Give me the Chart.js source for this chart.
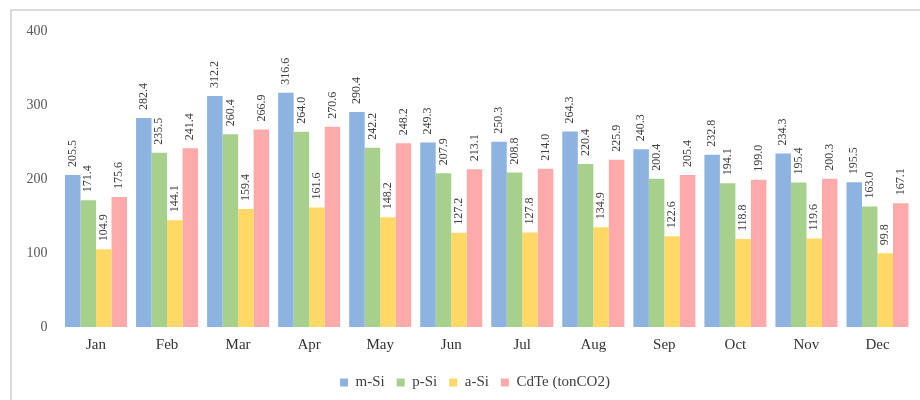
<!DOCTYPE html>
<html>
<head>
<meta charset="utf-8">
<script src="https://cdn.jsdelivr.net/npm/chart.js@4/dist/chart.umd.min.js"></script>
<style>
  html, body { margin: 0; padding: 0; background: #fff; }
  #wrap { width: 920px; height: 400px; position: relative; }
</style>
</head>
<body>
<div id="wrap"><canvas id="chart" width="920" height="400"></canvas></div>
<script>
const MONTHS = ["Jan", "Feb", "Mar", "Apr", "May", "Jun", "Jul", "Aug", "Sep", "Oct", "Nov", "Dec"];

const M_SI = [205.5, 282.4, 312.2, 316.6, 290.4, 249.3, 250.3, 264.3, 240.3, 232.8, 234.3, 195.5];
const P_SI = [171.4, 235.5, 260.4, 264.0, 242.2, 207.9, 208.8, 220.4, 200.4, 194.1, 195.4, 163.0];
const A_SI = [104.9, 144.1, 159.4, 161.6, 148.2, 127.2, 127.8, 134.9, 122.6, 118.8, 119.6, 99.8];
const CDTE = [175.6, 241.4, 266.9, 270.6, 248.2, 213.1, 214.0, 225.9, 205.4, 199.0, 200.3, 167.1];

const SERIES_NAMES = ["m-Si", "p-Si", "a-Si", "CdTe (tonCO2)"];
const Y_TICKS = [0, 100, 200, 300, 400];

const COLORS = ["#8db4e0", "#a8d08d", "#ffd866", "#ffaaaa"];
const FONT = "'Liberation Serif', 'Times New Roman', serif";

// rotated value labels above each bar
const barLabels = {
  id: "barLabels",
  afterDatasetsDraw(chart) {
    const ctx = chart.ctx;
    ctx.save();
    ctx.font = "12px " + FONT;
    ctx.fillStyle = "#404040";
    ctx.textAlign = "left";
    ctx.textBaseline = "middle";
    chart.data.datasets.forEach(function (ds, i) {
      const meta = chart.getDatasetMeta(i);
      meta.data.forEach(function (bar, j) {
        ctx.save();
        ctx.translate(bar.x, bar.y - 8);
        ctx.rotate(-Math.PI / 2);
        ctx.fillText(ds.data[j].toFixed(1), 0, 0);
        ctx.restore();
      });
    });
    ctx.restore();
  },
};

// light frame around the chart (only top and left edges visible)
const frame = {
  id: "frame",
  beforeDraw(chart) {
    const ctx = chart.ctx;
    ctx.save();
    ctx.fillStyle = "#fff";
    ctx.fillRect(0, 0, chart.width, chart.height);
    ctx.strokeStyle = "#dadada";
    ctx.lineWidth = 2;
    ctx.beginPath();
    ctx.moveTo(11, chart.height);
    ctx.lineTo(11, 10);
    ctx.lineTo(chart.width, 10);
    ctx.stroke();
    ctx.restore();
  },
};

// the legend sits a bit right of centre in the original
const legendShift = {
  id: "legendShift",
  afterLayout(chart) {
    if (chart.legend) {
      chart.legend.left += 13;
      chart.legend.right += 13;
    }
  },
};

const datasets = [M_SI, P_SI, A_SI, CDTE].map(function (values, i) {
  return {
    label: SERIES_NAMES[i],
    data: values,
    backgroundColor: COLORS[i],
    borderWidth: 0,
    categoryPercentage: 0.873,
    barPercentage: 1.0,
  };
});

new Chart(document.getElementById("chart"), {
  type: "bar",
  data: { labels: MONTHS, datasets: datasets },
  plugins: [frame, barLabels, legendShift],
  options: {
    responsive: false,
    animation: false,
    layout: { padding: { left: 11, right: 7, top: 31, bottom: 0 } },
    plugins: {
      tooltip: { enabled: false },
      legend: {
        position: "bottom",
        labels: {
          boxWidth: 8,
          boxHeight: 8,
          padding: 12,
          color: "#404040",
          font: { family: FONT, size: 15 },
        },
      },
    },
    scales: {
      x: {
        grid: { display: false, drawTicks: false },
        border: { display: false },
        ticks: { color: "#333333", padding: 9, font: { family: FONT, size: 15 } },
      },
      y: {
        min: 0,
        max: 400,
        afterBuildTicks(scale) {
          scale.ticks = Y_TICKS.map(function (v) { return { value: v }; });
        },
        afterFit(scale) { scale.width = 49.5; },
        grid: { display: false, drawTicks: false },
        border: { display: false },
        ticks: { color: "#595959", padding: 13, font: { family: FONT, size: 14 } },
      },
    },
  },
});
</script>
</body>
</html>
